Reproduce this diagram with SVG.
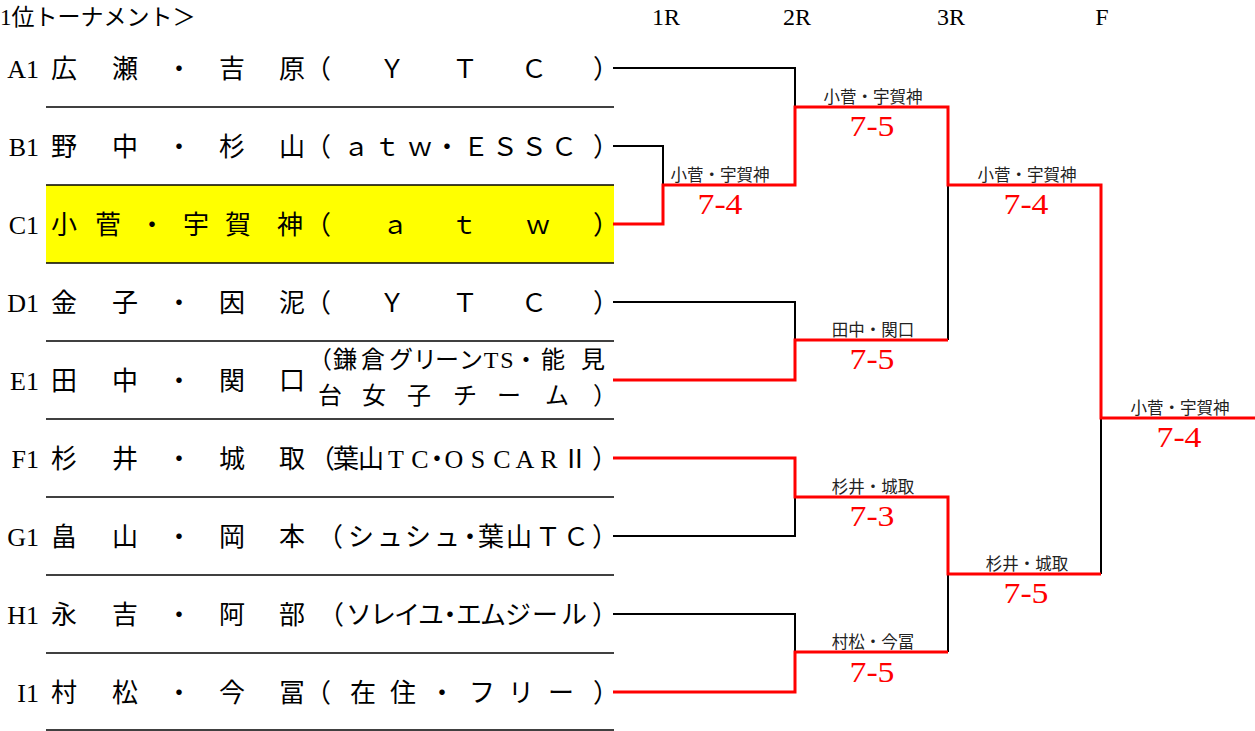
<svg xmlns="http://www.w3.org/2000/svg" width="1255" height="731" viewBox="0 0 1255 731">
<style>
text{font-family:"Liberation Serif","Noto Sans CJK JP",serif;fill:#000}
.hd{font-size:23px}
.rh{font-size:24px;text-anchor:middle}
.code{font-size:26px;text-anchor:end}
.nm{font-size:26px;text-anchor:middle}
.t2{font-size:24px;text-anchor:middle}
.sep{stroke:#000;stroke-width:1.5}
.bk{fill:none;stroke:#000;stroke-width:2}
.rd{fill:none;stroke:#f00;stroke-width:3}
.lbl{font-family:"Noto Sans CJK JP",sans-serif;font-size:16.5px;fill:#222;text-anchor:middle}
.sc{font-family:"Liberation Serif",serif;font-size:30px;fill:#f00;text-anchor:middle}
</style>
<rect width="1255" height="731" fill="#fff"/>
<g id="header">
<text class="hd" x="0" y="25">1位トーナメント＞</text>
<text class="rh" x="666" y="25">1R</text>
<text class="rh" x="797" y="25">2R</text>
<text class="rh" x="951" y="25">3R</text>
<text class="rh" x="1102" y="25">F</text>
</g>
<rect x="46" y="185" width="568" height="78" fill="#ff0"/>
<g id="separators">
<line class="sep" x1="46" y1="107" x2="614" y2="107"/>
<line class="sep" x1="46" y1="185" x2="614" y2="185"/>
<line class="sep" x1="46" y1="263" x2="614" y2="263"/>
<line class="sep" x1="46" y1="341" x2="614" y2="341"/>
<line class="sep" x1="46" y1="419" x2="614" y2="419"/>
<line class="sep" x1="46" y1="497" x2="614" y2="497"/>
<line class="sep" x1="46" y1="575" x2="614" y2="575"/>
<line class="sep" x1="46" y1="653" x2="614" y2="653"/>
<line class="sep" x1="46" y1="730" x2="614" y2="730"/>
</g>
<g id="A1">
<text class="code" x="39" y="78">A1</text>
<text class="nm" x="64 125 179 232 292" y="78">広瀬・吉原</text>
<text class="nm" x="318 392 465 534 606" y="78">（ＹＴＣ）</text>
</g>
<g id="B1">
<text class="code" x="39" y="156">B1</text>
<text class="nm" x="64 125 179 232 292" y="156">野中・杉山</text>
<text class="nm" x="318 356 387 420 447 476 505 534 564 606" y="156">（ａｔｗ・ＥＳＳＣ）</text>
</g>
<g id="C1">
<text class="code" x="39" y="234">C1</text>
<text class="nm" x="64 108 152 196 238 290" y="234">小菅・宇賀神</text>
<text class="nm" x="318 395 464 538 606" y="234">（ａｔｗ）</text>
</g>
<g id="D1">
<text class="code" x="39" y="312">D1</text>
<text class="nm" x="64 125 179 232 292" y="312">金子・因泥</text>
<text class="nm" x="318 392 465 534 606" y="312">（ＹＴＣ）</text>
</g>
<g id="E1">
<text class="code" x="39" y="390">E1</text>
<text class="nm" x="64 125 179 232 292" y="390">田中・関口</text>
<text class="t2" x="320 345 373 401 425 447 471 491 507 526 553 593" y="368">（鎌倉グリーンTS・能見</text>
<text class="t2" x="330 374 419 465 509 557 605" y="404">台女子チーム）</text>
</g>
<g id="F1">
<text class="code" x="39" y="468">F1</text>
<text class="nm" x="64 125 179 232 292" y="468">杉井・城取</text>
<text class="nm" x="322 346 371 396 420 437 454 478 502 525 549 575 605" y="468">（葉山TC・OSCARⅡ）</text>
</g>
<g id="G1">
<text class="code" x="39" y="546">G1</text>
<text class="nm" x="64 125 179 232 292" y="546">畠山・岡本</text>
<text class="nm" x="330 361 390 418 447 470 491 519 548 576 605" y="546">（シュシュ・葉山ＴＣ）</text>
</g>
<g id="H1">
<text class="code" x="39" y="624">H1</text>
<text class="nm" x="64 125 179 232 292" y="624">永吉・阿部</text>
<text class="nm" x="331 359 383 407 431 450 469 493 518 545 574 605" y="624">（ソレイユ・エムジール）</text>
</g>
<g id="I1">
<text class="code" x="39" y="702">I1</text>
<text class="nm" x="64 125 179 232 292" y="702">村松・今冨</text>
<text class="nm" x="318 363 403 442 482 521 561 606" y="702">（在住・フリー）</text>
</g>
<g id="connectors">
<polyline class="bk" points="613,68 795,68 795,107"/>
<polyline class="bk" points="613,146 663,146 663,185"/>
<polyline class="bk" points="613,302 795,302 795,340"/>
<polyline class="bk" points="613,536 795,536 795,497"/>
<polyline class="bk" points="613,614 795,614 795,652"/>
<line class="bk" x1="948" y1="185" x2="948" y2="340"/>
<line class="bk" x1="948" y1="574" x2="948" y2="652"/>
<line class="bk" x1="1101" y1="418" x2="1101" y2="574"/>
<polyline class="rd" points="613,224 663,224 663,185 795,185 795,107 948,107 948,185 1101,185 1101,418 1255,418"/>
<polyline class="rd" points="613,380 795,380 795,340 948,340"/>
<polyline class="rd" points="613,458 795,458 795,497 948,497 948,574 1101,574"/>
<polyline class="rd" points="613,692 795,692 795,652 948,652"/>
</g>
<g id="results">
<text class="lbl" x="720" y="181">小菅・宇賀神</text>
<text class="sc" x="720" y="214" textLength="45" lengthAdjust="spacingAndGlyphs">7-4</text>
<text class="lbl" x="873" y="103">小菅・宇賀神</text>
<text class="sc" x="872" y="136" textLength="45" lengthAdjust="spacingAndGlyphs">7-5</text>
<text class="lbl" x="873" y="336">田中・関口</text>
<text class="sc" x="872" y="369" textLength="45" lengthAdjust="spacingAndGlyphs">7-5</text>
<text class="lbl" x="873" y="493">杉井・城取</text>
<text class="sc" x="872" y="526" textLength="45" lengthAdjust="spacingAndGlyphs">7-3</text>
<text class="lbl" x="873" y="648">村松・今冨</text>
<text class="sc" x="872" y="682" textLength="45" lengthAdjust="spacingAndGlyphs">7-5</text>
<text class="lbl" x="1027" y="181">小菅・宇賀神</text>
<text class="sc" x="1026" y="214" textLength="45" lengthAdjust="spacingAndGlyphs">7-4</text>
<text class="lbl" x="1027" y="570">杉井・城取</text>
<text class="sc" x="1026" y="603" textLength="45" lengthAdjust="spacingAndGlyphs">7-5</text>
<text class="lbl" x="1180" y="414">小菅・宇賀神</text>
<text class="sc" x="1179" y="447" textLength="45" lengthAdjust="spacingAndGlyphs">7-4</text>
</g>
</svg>
